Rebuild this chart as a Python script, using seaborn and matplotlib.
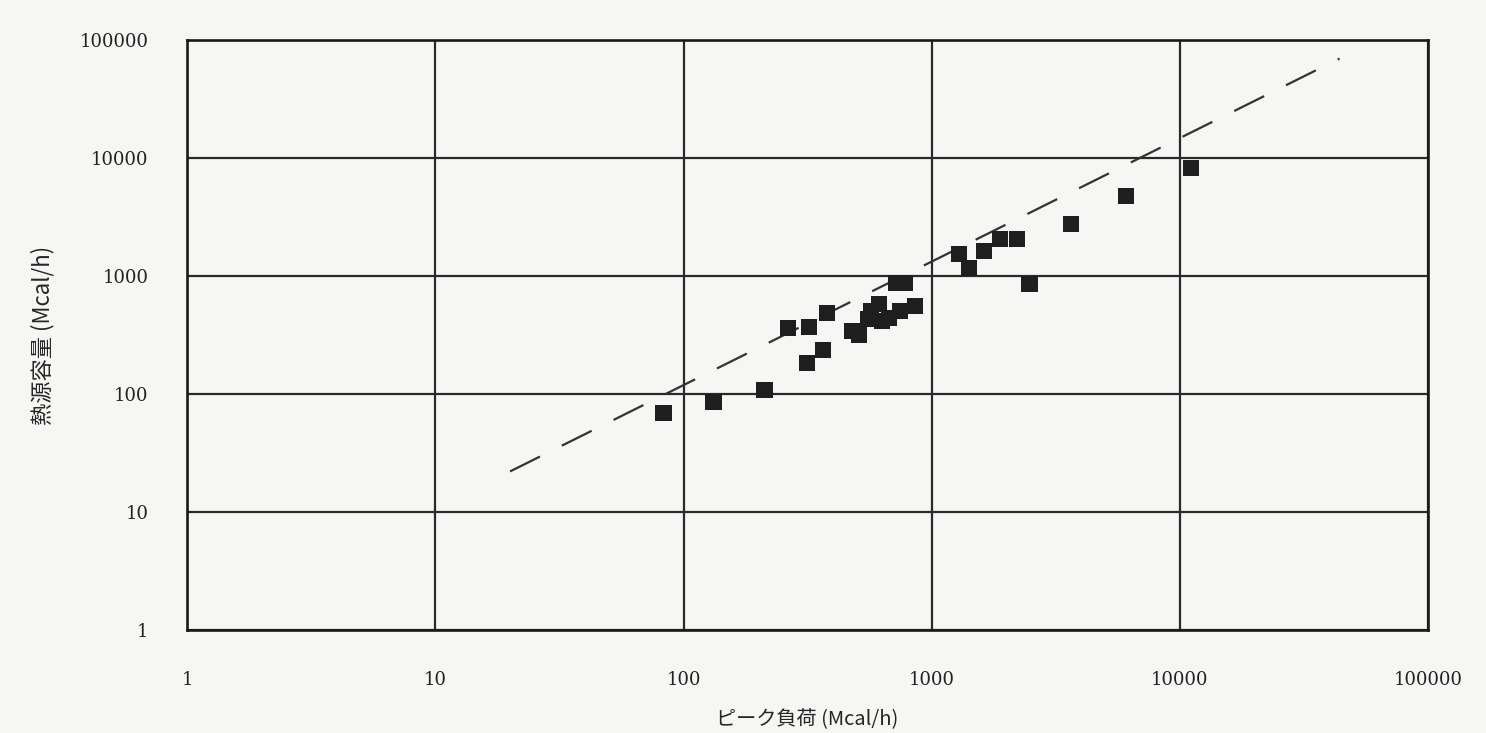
import numpy as np
import pandas as pd
import matplotlib
matplotlib.use("Agg")
import matplotlib.pyplot as plt
import seaborn as sns

# peak load vs heat source capacity (Mcal/h)
peak_load = [83, 132, 212, 263, 320, 378, 314, 365, 478, 510, 554, 570, 614,
             631, 674, 747, 857, 719, 782, 1291, 1418, 1630, 1891, 2214, 2476,
             3631, 6050, 11070]
capacity = [69, 86, 108, 362, 370, 486, 183, 236, 342, 316, 432, 505, 580,
            416, 441, 505, 557, 873, 873, 1536, 1170, 1630, 2060, 2060, 855,
            2760, 4760, 8220]

# dashed reference line end points
ref_x = [20, 44000]
ref_y = [22, 70000]

tick_values = [1, 10, 100, 1000, 10000, 100000]
tick_labels = ["1", "10", "100", "1000", "10000", "100000"]

sns.set_style("white")
plt.rcParams["font.family"] = ["DejaVu Serif", "Liberation Serif"]

fig = plt.figure(figsize=(14.86, 7.33), dpi=100)
fig.patch.set_facecolor("#f6f6f4")
ax = fig.add_axes([0.126, 0.141, 0.835, 0.804])
ax.set_facecolor("#f6f6f4")

df = pd.DataFrame({"x": peak_load, "y": capacity})
ref = pd.DataFrame({"x": ref_x, "y": ref_y})

sns.lineplot(data=ref, x="x", y="y", ax=ax, color="#333333", lw=1.6,
             linestyle=(0, (15, 11)), zorder=3)
sns.scatterplot(data=df, x="x", y="y", ax=ax, marker="s", s=135,
                color="#1e1e1e", edgecolor="none", zorder=4)

ax.set_xscale("log")
ax.set_yscale("log")
ax.set_xlim(1, 100000)
ax.set_ylim(1, 100000)
ax.set_xticks(tick_values)
ax.set_xticklabels(tick_labels)
ax.set_yticks(tick_values)
ax.set_yticklabels(tick_labels)
ax.minorticks_off()
ax.tick_params(axis="both", length=0, labelsize=13, colors="#222222")
ax.tick_params(axis="x", pad=30)
ax.tick_params(axis="y", pad=28)

ax.grid(True, color="#2a2a2a", lw=1.6)
for s in ax.spines.values():
    s.set_color("#1a1a1a")
    s.set_linewidth(1.9)

cjk = ["Noto Sans CJK JP", "DejaVu Sans"]
ax.set_xlabel("ピーク負荷 (Mcal/h)", family=cjk, fontsize=14.5, labelpad=14)
ax.set_ylabel("熱源容量 (Mcal/h)", family=cjk, fontsize=16, labelpad=18)

fig.savefig("out.png", dpi=100, facecolor=fig.get_facecolor())
